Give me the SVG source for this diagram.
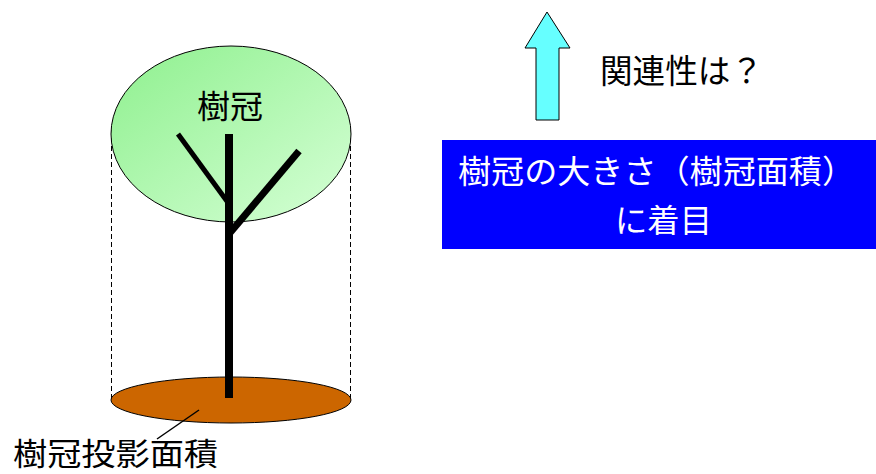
<svg xmlns="http://www.w3.org/2000/svg" width="876" height="474" viewBox="0 0 876 474">
  <style>
    .jp { font-family: "Noto Sans CJK JP", "Noto Sans", sans-serif; }
    .dash { stroke: #000; stroke-width: 1; stroke-dasharray: 5 3; fill: none; }
    .wood { stroke: #000; fill: none; stroke-linecap: butt; }
  </style>
  <defs>
    <linearGradient id="crownFill" x1="0" y1="0" x2="1" y2="1">
      <stop offset="0" stop-color="#8ef08e"/>
      <stop offset="1" stop-color="#d6ffd6"/>
    </linearGradient>
  </defs>

  <rect width="876" height="474" fill="#fff"/>

  <!-- tree: crown, projection, trunk -->
  <g id="tree">
    <line class="dash" x1="111.5" y1="130" x2="111.5" y2="400"/>
    <line class="dash" x1="350.5" y1="130" x2="350.5" y2="400"/>
    <ellipse cx="231" cy="134" rx="120" ry="88" fill="url(#crownFill)" stroke="#000" stroke-width="1"/>
    <ellipse cx="231" cy="400" rx="120" ry="23" fill="#cc6600" stroke="#000" stroke-width="1"/>
    <line class="wood" x1="229" y1="134" x2="229" y2="398" stroke-width="8"/>
    <line class="wood" x1="178" y1="134" x2="229" y2="204" stroke-width="5"/>
    <line class="wood" x1="299" y1="151" x2="229" y2="234" stroke-width="7"/>
    <text class="jp" x="197" y="118" font-size="32" textLength="66" lengthAdjust="spacingAndGlyphs" fill="#000">樹冠</text>
  </g>

  <!-- projection label with leader -->
  <g id="projection-label">
    <line x1="199" y1="410" x2="157" y2="439" stroke="#000" stroke-width="1.5"/>
    <text class="jp" x="13" y="465" font-size="31" textLength="205" lengthAdjust="spacingAndGlyphs" fill="#000">樹冠投影面積</text>
  </g>

  <!-- upward arrow -->
  <g id="arrow">
    <polygon points="547,12 570,48 559,48 559,120 536,120 536,48 525,48" fill="#66ffff" stroke="#000" stroke-width="1"/>
  </g>

  <g id="question">
    <text class="jp" x="600" y="83" font-size="33" textLength="163" lengthAdjust="spacingAndGlyphs" fill="#000">関連性は？</text>
  </g>

  <!-- focus box -->
  <g id="focus">
    <rect x="442" y="140" width="434" height="109" fill="#0000ff"/>
    <text class="jp" x="458" y="183" font-size="32" textLength="397" lengthAdjust="spacingAndGlyphs" fill="#fff">樹冠の大きさ（樹冠面積）</text>
    <text class="jp" x="615" y="232" font-size="32" textLength="97" lengthAdjust="spacingAndGlyphs" fill="#fff">に着目</text>
  </g>
</svg>
